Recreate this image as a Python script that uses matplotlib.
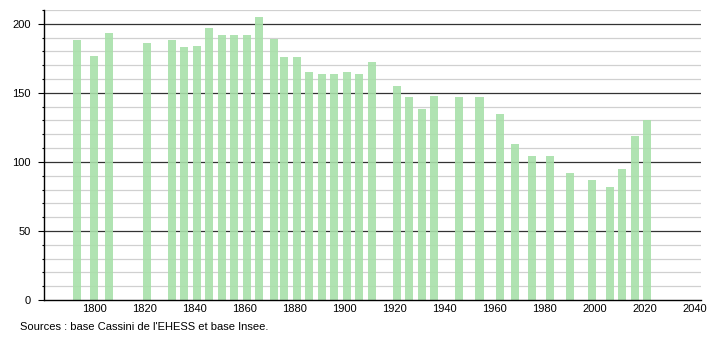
import matplotlib
matplotlib.use("Agg")
import matplotlib.pyplot as plt
from matplotlib.ticker import MultipleLocator

years = [1793, 1800, 1806, 1821, 1831, 1836, 1841, 1846, 1851, 1856, 1861, 1866,
         1872, 1876, 1881, 1886, 1891, 1896, 1901, 1906, 1911, 1921, 1926, 1931,
         1936, 1946, 1954, 1962, 1968, 1975, 1982, 1990, 1999, 2006, 2011, 2016, 2021]
population = [188, 177, 193, 186, 188, 183, 184, 197, 192, 192, 192, 205,
              189, 176, 176, 165, 164, 164, 165, 164, 172, 155, 147, 138,
              148, 147, 147, 135, 113, 104, 104, 92, 87, 82, 95, 119, 130]
x_ticks = [1800, 1820, 1840, 1860, 1880, 1900, 1920, 1940, 1960, 1980, 2000, 2020, 2040]
source_text = "Sources : base Cassini de l'EHESS et base Insee."

plt.rcParams['font.family'] = ['Liberation Sans', 'DejaVu Sans']

fig = plt.figure(figsize=(7.1, 3.4), dpi=100)
ax = fig.add_axes([44/710, 1 - 300/340, (701 - 44)/710, 290/340])

ax.set_xlim(1780, 2042.5)
ax.set_ylim(0, 210)

# grid
for v in range(10, 211, 10):
    if v % 50 == 0:
        ax.axhline(v, color='#333333', lw=0.9, zorder=1)
    else:
        ax.axhline(v, color='#d0d0d0', lw=0.9, zorder=1)

ax.bar(years, population, width=3.2, color='#a8e0aa', alpha=0.9, zorder=2, linewidth=0)

for s in ['top', 'right']:
    ax.spines[s].set_visible(False)
for s in ['left', 'bottom']:
    ax.spines[s].set_color('black')
    ax.spines[s].set_linewidth(1.0)
ax.spines['bottom'].set_zorder(3)

ax.yaxis.set_major_locator(MultipleLocator(50))
ax.yaxis.set_minor_locator(MultipleLocator(10))
ax.set_xticks(x_ticks)
ax.tick_params(axis='x', length=0, labelsize=8, pad=3, colors='black')
ax.tick_params(axis='y', which='major', length=4.5, width=0.8, labelsize=8, pad=5)
ax.tick_params(axis='y', which='minor', length=1.5, width=0.8)

fig.text(20/710, 1 - 327/340, source_text, fontsize=8, va='center', ha='left')

fig.savefig("out.png", dpi=100)
